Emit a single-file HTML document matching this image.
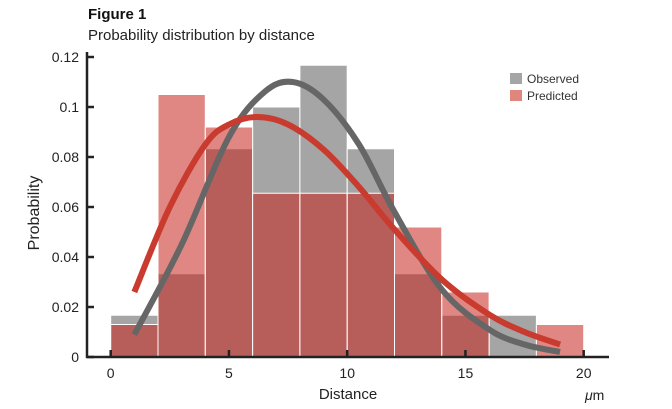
<!DOCTYPE html>
<html><head><meta charset="utf-8"><style>
body{margin:0;background:#fff;width:672px;height:404px;overflow:hidden;font-family:"Liberation Sans",sans-serif}
</style></head><body>
<svg id="s" width="672" height="404" xmlns="http://www.w3.org/2000/svg" font-family="Liberation Sans, sans-serif">
<text x="88" y="19" font-size="15" font-weight="bold" fill="#111">Figure 1</text>
<text x="88" y="40" font-size="15" fill="#222">Probability distribution by distance</text>
<g id="bars"></g>
<g id="curves"></g>
<line x1="87" y1="52" x2="87" y2="358" stroke="#222" stroke-width="2.5"/>
<line x1="86" y1="357" x2="609" y2="357" stroke="#222" stroke-width="2.5"/>
<g id="ticks" stroke="#222" stroke-width="2.5"></g>
<g id="labels" font-size="14" fill="#222"></g>
<text x="348" y="399" font-size="15" text-anchor="middle" fill="#222">Distance</text>
<text x="585" y="400" font-size="14" fill="#222"><tspan font-style="italic">μ</tspan>m</text>
<text transform="translate(39,213) rotate(-90)" font-size="16" text-anchor="middle" fill="#222">Probability</text>
<rect x="510" y="73" width="12" height="11" fill="#a5a5a5"/>
<text x="527" y="83" font-size="12" fill="#333">Observed</text>
<rect x="510" y="90" width="12" height="11" fill="#e0867d"/>
<text x="527" y="100" font-size="12" fill="#333">Predicted</text>
</svg>
<script>
var NS="http://www.w3.org/2000/svg";
function X(v){return 110.7+v*23.65}
function Y(v){return 357-v*2500}
function el(p,t,a){var e=document.createElementNS(NS,t);for(var k in a)e.setAttribute(k,a[k]);document.getElementById(p).appendChild(e);return e}
var obs=[0.0167,0.0333,0.0833,0.1,0.1167,0.0833,0.0333,0.0167,0.0167,0];
var pre=[0.013,0.105,0.092,0.0655,0.0655,0.0655,0.052,0.026,0,0.013];
for(var i=0;i<10;i++){
 if(obs[i]>0)el("bars","rect",{x:X(2*i),y:Y(obs[i]),width:X(2)-X(0),height:357-Y(obs[i]),fill:"#a5a5a5",stroke:"#fff","stroke-width":1});
}
for(var i=0;i<10;i++){
 if(pre[i]>0)el("bars","rect",{x:X(2*i),y:Y(pre[i]),width:X(2)-X(0),height:357-Y(pre[i]),fill:"rgba(198,36,30,0.55)",stroke:"#fff","stroke-width":1});
}
function spline(pts){
 var d="M"+X(pts[0][0])+","+Y(pts[0][1]);
 for(var i=0;i<pts.length-1;i++){
  var p0=pts[Math.max(0,i-1)],p1=pts[i],p2=pts[i+1],p3=pts[Math.min(pts.length-1,i+2)];
  var a=[X(p1[0]),Y(p1[1])],b=[X(p2[0]),Y(p2[1])],z=[X(p0[0]),Y(p0[1])],w=[X(p3[0]),Y(p3[1])];
  var c1=[a[0]+(b[0]-z[0])/6,a[1]+(b[1]-z[1])/6],c2=[b[0]-(w[0]-a[0])/6,b[1]-(w[1]-a[1])/6];
  d+=" C"+c1+" "+c2+" "+b;
 }
 return d;
}
var g=[[1,0.009],[3,0.045],[5,0.088],[6.5,0.106],[7.7,0.110],[9,0.103],[10.5,0.085],[12,0.058],[14,0.027],[16,0.011],[17.5,0.005],[19,0.002]];
var r=[[1,0.026],[2.5,0.06],[4,0.085],[5,0.093],[6.2,0.096],[7.5,0.093],[9,0.083],[10.5,0.068],[12,0.051],[14,0.031],[16,0.017],[17.5,0.010],[19,0.005]];
el("curves","path",{d:spline(g),fill:"none",stroke:"#666","stroke-width":6});
el("curves","path",{d:spline(r),fill:"none",stroke:"#c93b2e","stroke-width":6});
[0,5,10,15,20].forEach(function(v){el("ticks","line",{x1:X(v),y1:357,x2:X(v),y2:350});
 var t=el("labels","text",{x:X(v),y:378,"text-anchor":"middle"});t.textContent=v;});
["0","0.02","0.04","0.06","0.08","0.1","0.12"].forEach(function(s,i){var v=i*0.02;
 el("ticks","line",{x1:87,y1:Y(v),x2:94,y2:Y(v)});
 var t=el("labels","text",{x:79,y:Y(v)+5,"text-anchor":"end"});t.textContent=s;});
</script>
</body></html>
